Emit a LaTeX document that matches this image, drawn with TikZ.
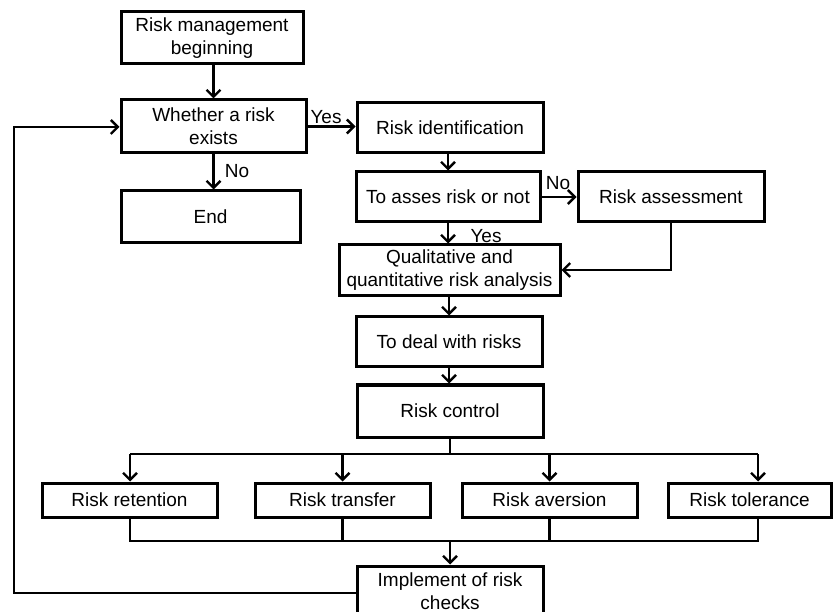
\documentclass[tikz,border=0pt]{standalone}
\usepackage{fontspec}
\setmainfont{Liberation Sans}
\usetikzlibrary{arrows.meta}
\begin{document}
\begin{tikzpicture}[x=1pt,y=-1pt,
  box/.style={draw,line width=3pt,align=center,inner sep=0pt,font=\fontsize{19}{23}\selectfont},
  lbl/.style={font=\fontsize{19}{23}\selectfont,inner sep=0pt},
  conn/.style={line width=2.6pt},
  arr/.style={conn,-{Straight Barb[length=7pt,width=14pt,line width=2.4pt]}}]
\useasboundingbox (0,0) rectangle (833,612);
\clip (0,0) rectangle (833,612);
% nodes
\node[box,minimum width=182pt,minimum height=52pt] (b1) at (212,38) {Risk management\\beginning};
\node[box,minimum width=185pt,minimum height=53pt] (b2) at (213.5,126.5) {Whether a risk\\exists};
\node[box,minimum width=179pt,minimum height=52pt] (end) at (210.5,217) {End};
\node[box,minimum width=186pt,minimum height=50pt] (rid) at (450,128) {Risk identification};
\node[box,minimum width=184pt,minimum height=50pt] (ass) at (448,197) {To asses risk or not};
\node[box,minimum width=186pt,minimum height=50pt] (rass) at (671,197) {Risk assessment};
\node[box,minimum width=221pt,minimum height=51pt] (qual) at (449.5,270.5) {Qualitative and\\quantitative risk analysis};
\node[box,minimum width=186pt,minimum height=50pt] (deal) at (449,342) {To deal with risks};
\node[box,minimum width=186pt,minimum height=52pt] (ctrl) at (450,411) {Risk control};
\node[box,minimum width=175pt,minimum height=34pt] (ret) at (129.5,500) {Risk retention};
\node[box,minimum width=175pt,minimum height=34pt] (tra) at (342.5,500) {Risk transfer};
\node[box,minimum width=175pt,minimum height=34pt] (ave) at (549.5,500) {Risk aversion};
\node[box,minimum width=163pt,minimum height=34pt] (tol) at (749.5,500) {Risk tolerance};
\node[box,minimum width=186pt,minimum height=50pt] (imp) at (450,591) {Implement of risk\\checks};
% coordinates
\coordinate (lt) at (14,127);
\coordinate (lb) at (14,593);
\coordinate (rc) at (671,270);
\coordinate (bl) at (130,454);
\coordinate (br) at (758,454);
\coordinate (ml) at (130,541);
\coordinate (mr) at (758,541);
% connectors
\draw[arr] (b2.north |- b1.south) -- (b2.north);
\draw[arr] (b2.east) -- (b2.east -| rid.west);
\node[lbl] (yes1) at (326,117) {Yes};
\draw[arr] (b2.south) -- (b2.south |- end.north);
\node[lbl] (no1) at (237,171) {No};
\draw[arr] (imp.west |- lb) -- (lb) -- (lt) -- (lt -| b2.west);
\draw[arr] (rid.south -| ass.north) -- (ass.north);
\draw[arr] (ass.east) -- (rass.west);
\node[lbl] (no2) at (558,183) {No};
\draw[arr] (ass.south) -- (ass.south |- qual.north);
\node[lbl] (yes2) at (486,236) {Yes};
\draw[arr] (rass.south) -- (rc) -- (qual.east |- rc);
\draw[arr] (qual.south -| deal.north) -- (deal.north);
\draw[arr] (deal.south) -- (deal.south |- ctrl.north);
\draw[conn] (ctrl.south) -- (ctrl.south |- bl);
\draw[conn] (bl) -- (br);
\draw[arr] (bl) -- (bl |- ret.north);
\draw[arr] (tra.north |- bl) -- (tra.north);
\draw[arr] (ave.north |- bl) -- (ave.north);
\draw[arr] (br) -- (br |- tol.north);
\draw[conn] (ret.south -| ml) -- (ml) -- (mr) -- (tol.south -| mr);
\draw[conn] (tra.south) -- (tra.south |- ml);
\draw[conn] (ave.south) -- (ave.south |- ml);
\draw[arr] (imp.north |- ml) -- (imp.north);
\end{tikzpicture}
\end{document}
